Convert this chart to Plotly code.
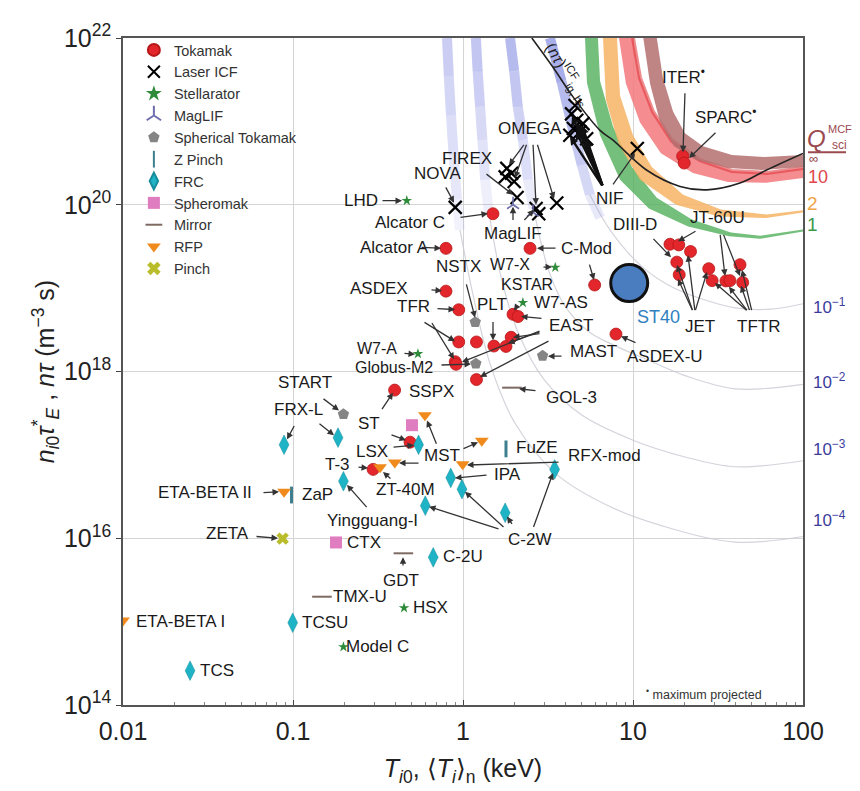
import plotly.graph_objects as go

# ---------------- data (T in keV, n*tau in m^-3 s) ----------------
tok_T = [1.50, 0.794, 2.48, 5.95, 0.794, 0.944, 1.97, 2.11, 0.944, 1.20, 1.52, 1.79, 1.92, 0.90, 0.91,
         1.20, 7.94, 16.5, 18.6, 21.8, 18.1, 18.7, 27.9, 29.2, 35.2, 37.2, 42.6, 44.2, 19.6, 20.0,
         0.396, 0.488, 0.296]
tok_nt = [7.8e19, 3.0e19, 3.0e19, 1.09e19, 9.2e18, 5.5e18, 4.85e18, 4.56e18, 2.26e18, 2.26e18, 2.02e18,
          2.0e18, 2.57e18, 1.31e18, 1.22e18, 8.0e17, 2.81e18, 3.36e19, 3.3e19, 2.75e19, 2.05e19, 1.45e19,
          1.71e19, 1.23e19, 1.22e19, 1.23e19, 1.91e19, 1.17e19, 3.83e20, 3.16e20, 5.98e17, 1.42e17, 6.7e16]

icf_T = [0.90, 1.81, 1.93, 2.0, 1.77, 2.08, 2.79, 2.69, 3.56, 4.35, 4.67, 4.46, 4.88, 5.34, 4.25, 4.56, 5.08, 10.6]
icf_nt = [9.3e19, 2.73e20, 2.39e20, 1.9e20, 2.16e20, 1.22e20, 7.8e19, 9.0e19, 1.05e20, 1.23e21, 1.03e21,
          8.2e20, 7.5e20, 6.2e20, 6.8e20, 1.55e21, 9.4e20, 4.73e20]

stel_T = [0.467, 3.49, 2.25, 0.543, 0.45, 0.198]
stel_nt = [1.12e20, 1.77e19, 6.7e18, 1.63e18, 1.46e15, 4.97e14]

maglif_T = [1.97, 2.58]
maglif_nt = [1.0e20, 8.1e19]

sphtok_T = [0.198, 1.18, 1.19, 2.94]
sphtok_nt = [3.07e17, 3.9e18, 1.24e18, 1.54e18]

zpinch_T = [0.098, 1.79]
zpinch_nt = [3.3e16, 1.18e17]

frc_T = [0.0886, 0.184, 0.198, 0.548, 0.847, 0.986, 0.60, 1.77, 3.46, 0.668, 0.0996, 0.0248]
frc_nt = [1.32e17, 1.61e17, 4.83e16, 1.32e17, 5.3e16, 3.88e16, 2.46e16, 2.02e16, 6.7e16, 5.9e15, 9.7e14, 2.58e14]

spheromak_T = [0.501, 0.179]
spheromak_nt = [2.27e17, 8.9e15]

mirror_T = [0.446, 0.148, 1.94]
mirror_nt = [6.6e15, 1.99e15, 6.4e17]

rfp_T = [0.0886, 0.01, 0.597, 1.29, 0.397, 0.325, 0.995]
rfp_nt = [3.6e16, 1.03e15, 2.98e17, 1.48e17, 8.1e16, 7.1e16, 7.7e16]

pinch_T = [0.0869]
pinch_nt = [9.9e15]

st40_T = [9.5]
st40_nt = [1.15e19]

# ICF hot-spot ignition curve
icf_ig_T = [2.54, 3.40, 4.46, 6.40, 7.66, 12.0, 18.9, 27.2, 42.6, 61.1, 100]
icf_ig_nt = [1e22, 4.4e21, 1.94e21, 7.8e20, 5.9e20, 2.61e20, 1.66e20, 1.51e20, 1.82e20, 2.61e20, 4.12e20]

# Q_sci^MCF bands: upper edge and lower edge
qinf_up_T = [13.8, 15.0, 17.2, 20.2, 25.8, 38.2, 59.7, 100]
qinf_up_nt = [1e22, 3.32e21, 1.31e21, 7.2e20, 5.04e20, 3.94e20, 3.73e20, 3.94e20]
qinf_lo_T = [11.5, 12.6, 14.4, 17.4, 23.5, 36.2, 57.4, 100]
qinf_lo_nt = [1e22, 2.82e21, 9.97e20, 5.04e20, 3.43e20, 2.76e20, 2.61e20, 2.84e20]

q10_up_T = [10.0, 11.0, 13.1, 16.9, 24.8, 38.2, 61.4, 100]
q10_up_nt = [1e22, 3.32e21, 1.31e21, 5.9e20, 3.43e20, 2.54e20, 2.41e20, 2.76e20]
q10_lo_T = [8.27, 9.09, 11.0, 14.6, 22.5, 36.2, 60.6, 100]
q10_lo_nt = [1e22, 2.82e21, 9.7e20, 4.16e20, 2.41e20, 1.88e20, 1.83e20, 2.10e20]

q2_up_T = [8.05, 8.39, 10.0, 12.9, 19.7, 32.9, 61.4, 100]
q2_up_nt = [1e22, 2.03e21, 6.8e20, 2.84e20, 1.32e20, 8.75e19, 7.63e19, 8.6e19]
q2_lo_T = [6.66, 6.93, 8.27, 11.0, 17.9, 32.1, 60.6, 100]
q2_lo_nt = [1e22, 1.82e21, 5.2e20, 1.99e20, 1.0e20, 7.25e19, 6.93e19, 8.06e19]

q1_up_T = [6.22, 6.40, 7.63, 9.86, 13.8, 22.2, 37.7, 55.8, 100]
q1_up_nt = [1e22, 3.06e21, 8.7e20, 2.84e20, 1.21e20, 6.65e19, 4.66e19, 4.24e19, 5.06e19]
q1_lo_T = [5.22, 5.36, 6.40, 8.39, 12.4, 21.1, 36.7, 55.8, 100]
q1_lo_nt = [1e22, 2.9e21, 6.8e20, 1.99e20, 9.0e19, 5.5e19, 4.2e19, 3.9e19, 4.79e19]

# low-Q curves (steep blue part fading out, then thin grey continuation)
qm1_band_T = [3.25, 3.8, 4.44, 5.0, 5.58, 6.4]
qm1_band_nt = [1e22, 3e21, 7.8e20, 3e20, 1.32e20, 7e19]
qm1_T = [5.58, 7.32, 11, 16, 25, 40, 65, 100]
qm1_nt = [1.32e20, 5.0e19, 1.9e19, 1.1e19, 7.5e18, 5.8e18, 5.6e18, 6.5e18]

qm2_band_T = [1.89, 2.0, 2.1, 2.25, 2.41, 2.6]
qm2_band_nt = [1e22, 4e21, 1.5e21, 6e20, 2e20, 9e19]
qm2_T = [2.6, 3.2, 4.0, 5.5, 8, 12, 20, 40, 100]
qm2_nt = [9e19, 1.6e19, 6e18, 3e18, 2e18, 1.4e18, 9e17, 6.2e17, 7e17]

qm3_band_T = [1.19, 1.22, 1.26, 1.3, 1.35, 1.42]
qm3_band_nt = [1e22, 4e21, 1.5e21, 6e20, 2e20, 8e19]
qm3_T = [1.42, 1.7, 2.1, 3, 5, 10, 20, 40, 100]
qm3_nt = [8e19, 1.2e19, 3e18, 8e17, 3e17, 1.5e17, 9.5e16, 7.2e16, 8.5e16]

qm4_band_T = [0.805, 0.825, 0.85, 0.88, 0.922, 0.96]
qm4_band_nt = [1e22, 3.5e21, 1.18e21, 4e20, 1.15e20, 5e19]
qm4_T = [0.96, 1.15, 1.45, 2, 3.5, 7, 15, 40, 100]
qm4_nt = [5e19, 8e18, 1.2e18, 2.5e17, 6e16, 2.5e16, 1.4e16, 9e15, 1.05e16]

x_tickvals = [0.01, 0.1, 1, 10, 100]
x_ticktext = ["0.01", "0.1", "1", "10", "100"]
x_minorvals = [m * d for d in (0.01, 0.1, 1, 10) for m in range(2, 10)]
y_tickvals = [1e14, 1e16, 1e18, 1e20, 1e22]
y_ticktext = ["10<sup>14</sup>", "10<sup>16</sup>", "10<sup>18</sup>", "10<sup>20</sup>", "10<sup>22</sup>"]

# ---------------- layout helpers (reference pixel -> axis coords for annotations) ----------------
FONT = "Liberation Sans, Arial, sans-serif"
L, R, T0, B = 123, 803, 31.7, 705.5   # plot-area edges in the page
OFF = 8                                 # default body margin of the html page
W, H = 860 - OFF, 791 - OFF


def axx(px):
    return -2 + (px - L) / 170.0


def axy(py):
    return 22 - (py - T0) / 84.2


def ppx(px):
    return (px - L) / (R - L)


def ppy(py):
    return (B - py) / (B - T0)


fig = go.Figure()


def band(upT, upN, loT, loN, color):
    fig.add_trace(go.Scatter(x=upT + loT[::-1], y=upN + loN[::-1], mode="lines", fill="toself",
                             fillcolor=color, line=dict(width=0), hoverinfo="skip", showlegend=False))


band(q1_up_T, q1_up_nt, q1_lo_T, q1_lo_nt, "rgba(80,175,90,0.80)")
band(q2_up_T, q2_up_nt, q2_lo_T, q2_lo_nt, "rgba(246,180,100,0.85)")
band(q10_up_T, q10_up_nt, q10_lo_T, q10_lo_nt, "rgba(242,120,125,0.85)")
fig.add_trace(go.Scatter(x=q10_up_T, y=q10_up_nt, mode="lines", hoverinfo="skip", showlegend=False,
                         line=dict(color="rgba(222,45,50,0.55)", width=4)))
band(qinf_up_T, qinf_up_nt, qinf_lo_T, qinf_lo_nt, "rgba(180,110,110,0.85)")

for gT, gN in [(qm1_T, qm1_nt), (qm2_T, qm2_nt), (qm3_T, qm3_nt), (qm4_T, qm4_nt)]:
    fig.add_trace(go.Scatter(x=gT, y=gN, mode="lines", line=dict(color="rgba(200,200,210,0.8)", width=1.2,
                             shape="spline"), hoverinfo="skip", showlegend=False))

for bT, bN, op in [(qm1_band_T, qm1_band_nt, 0.6), (qm2_band_T, qm2_band_nt, 0.5),
                   (qm3_band_T, qm3_band_nt, 0.42), (qm4_band_T, qm4_band_nt, 0.36)]:
    n = len(bT) - 1
    for i in range(n):
        a = op * (1 - i / n) ** 0.8
        fig.add_trace(go.Scatter(x=bT[i:i + 2], y=bN[i:i + 2], mode="lines",
                                 line=dict(color=f"rgba(110,120,220,{a:.3f})", width=10),
                                 hoverinfo="skip", showlegend=False))

fig.add_trace(go.Scatter(x=icf_ig_T, y=icf_ig_nt, mode="lines", line=dict(color="#222", width=1.6, shape="spline"),
                         hoverinfo="skip", showlegend=False))


def pts(x, y, name, **mk):
    fig.add_trace(go.Scatter(x=x, y=y, mode="markers", name=name, legendgroup=name, marker=mk, hoverinfo="skip"))


pts(tok_T, tok_nt, "Tokamak", symbol="circle", size=12, color="#E3262B", line=dict(color="#B51818", width=0.8))
pts(icf_T, icf_nt, "Laser ICF", symbol="x-thin", size=13, line=dict(color="black", width=2.2))
pts(stel_T, stel_nt, "Stellarator", symbol="star", size=8, color="#2E8B3A")
pts(maglif_T, maglif_nt, "MagLIF", symbol="y-up", size=10, line=dict(color="#6F6FB0", width=1.6))
pts(sphtok_T, sphtok_nt, "Spherical Tokamak", symbol="pentagon", size=12, color="#858585")
pts(zpinch_T, zpinch_nt, "Z Pinch", symbol="line-ns", size=12, line=dict(color="#3E7F8E", width=3))
pts(frc_T, frc_nt, "FRC", symbol="diamond-tall", size=14, color="#1FB3C6", line=dict(color="#148C9C", width=0.5))
pts(spheromak_T, spheromak_nt, "Spheromak", symbol="square", size=12, color="#E07CC0")
pts(mirror_T, mirror_nt, "Mirror", symbol="line-ew", size=14, line=dict(color="#7E6A62", width=2))
pts(rfp_T, rfp_nt, "RFP", symbol="triangle-down", size=12, color="#F08A1C")
pts(pinch_T, pinch_nt, "Pinch", symbol="x", size=11, color="#BABD2B")

fig.add_trace(go.Scatter(x=st40_T, y=st40_nt, mode="markers", showlegend=False, hoverinfo="skip",
                         marker=dict(symbol="circle", size=37, color="#4A7CC0", line=dict(color="#111", width=3))))

# ---------------- annotations ----------------
ann = []

labels = [
    ("LHD", 361, 196, 17), ("Alcator C", 410, 218, 17), ("Alcator A", 394, 243, 17), ("NOVA", 438, 169, 17),
    ("FIREX", 467, 153, 17), ("OMEGA", 530, 123, 17), ("MagLIF", 513, 229, 17), ("NIF", 609, 194, 17),
    ("C-Mod", 586, 244, 17), ("NSTX", 458, 262, 17), ("W7-X", 510, 260, 16), ("KSTAR", 527, 281, 16),
    ("ASDEX", 379, 285, 17), ("TFR", 413, 303, 17), ("PLT", 492, 301, 17), ("W7-AS", 561, 299, 17),
    ("EAST", 571, 322, 17), ("W7-A", 377, 345, 16), ("Globus-M2", 394, 364, 16), ("MAST", 593, 348, 17),
    ("ASDEX-U", 665, 353, 17), ("DIII-D", 635, 220, 17), ("JT-60U", 717, 213, 17),
    ("JET", 700, 323, 17), ("TFTR", 758, 323, 17), ("ITER<sup>•</sup>", 683, 70, 17),
    ("SPARC<sup>•</sup>", 725, 110, 17),
    ("START", 305, 380, 17), ("FRX-L", 298, 407, 17), ("SSPX", 431, 389, 17), ("ST", 369, 421, 17),
    ("LSX", 372, 449, 17), ("T-3", 337, 462, 17), ("MST", 442, 453, 17), ("FuZE", 537, 445, 17),
    ("RFX-mod", 604, 453, 17), ("ETA-BETA II", 205, 491, 17), ("ZaP", 317, 493, 17), ("ZT-40M", 405, 488, 17),
    ("IPA", 507, 473, 17), ("Yingguang-I", 372, 519, 17), ("C-2W", 529, 538, 17), ("ZETA", 227, 532, 17),
    ("CTX", 364, 541, 17), ("C-2U", 463, 555, 17), ("GDT", 401, 580, 17), ("TMX-U", 360, 596, 17),
    ("HSX", 430, 607, 17), ("ETA-BETA I", 180, 621, 17), ("TCSU", 325, 622, 17), ("Model C", 377, 646, 17),
    ("TCS", 217, 670, 17), ("GOL-3", 571, 395, 17),
]
for txt, px, py, fs in labels:
    ann.append(dict(x=axx(px), y=axy(py), xref="x", yref="y", text=txt, showarrow=False,
                    xanchor="center", yanchor="middle",
                    font=dict(family=FONT, size=fs, color="#1a1a1a")))

ann.append(dict(x=axx(658), y=axy(313), xref="x", yref="y", text="ST40", showarrow=False,
                font=dict(family=FONT, size=18, color="#2E7FC0")))

arrows = [
    (381, 196, 402, 196), (459, 213, 488, 209), (420, 243, 441, 244), (445, 181, 454, 198),
    (485, 168, 513, 190), (525, 138, 509, 160), (527, 138, 515, 173), (533, 138, 536, 200),
    (537, 138, 554, 194), (513, 217, 513, 202), (523, 217, 534, 205), (612, 181, 635, 148),
    (557, 244, 537, 244), (589, 259, 594, 276), (466, 279, 475, 314), (542, 263, 552, 263),
    (518, 301, 514, 307), (430, 286, 442, 287), (436, 305, 455, 306), (423, 318, 455, 338),
    (431, 318, 454, 356), (493, 317, 493, 337), (543, 315, 521, 313), (541, 327, 462, 359),
    (541, 328, 508, 340), (541, 330, 513, 334), (550, 337, 480, 374), (403, 350, 415, 351),
    (440, 362, 471, 361), (563, 353, 548, 353), (637, 340, 621, 333), (652, 233, 671, 253),
    (697, 226, 678, 237), (720, 229, 725, 272), (723, 229, 740, 272), (693, 308, 678, 275),
    (693, 308, 677, 261), (695, 308, 688, 251), (695, 308, 707, 268), (748, 308, 715, 279),
    (748, 308, 729, 283), (750, 308, 741, 282), (752, 308, 742, 266), (685, 86, 683, 147),
    (717, 126, 689, 153), (322, 395, 339, 408), (295, 422, 287, 437), (318, 420, 334, 433),
    (357, 465, 368, 466), (262, 491, 279, 490), (368, 507, 347, 483), (255, 535, 278, 537),
    (403, 566, 403, 556), (500, 528, 429, 505), (505, 527, 465, 490), (513, 524, 507, 515),
    (533, 527, 553, 471), (537, 388, 519, 386), (381, 408, 393, 390), (390, 432, 406, 438),
    (392, 445, 414, 443), (437, 443, 427, 418), (420, 461, 399, 461), (462, 447, 478, 440),
    (392, 478, 383, 470), (488, 473, 455, 476), (560, 460, 467, 463),
]
for tx, ty, hx, hy in arrows:
    ann.append(dict(x=axx(hx), y=axy(hy), ax=axx(tx), ay=axy(ty), xref="x", yref="y", axref="x", ayref="y",
                    text="", showarrow=True, arrowhead=2, arrowsize=1, arrowwidth=1.3, arrowcolor="#333"))

# thick NIF bundle
for hx, hy in [(572, 110), (578, 118), (576, 126), (586, 134), (570, 131), (582, 120)]:
    ann.append(dict(x=axx(hx), y=axy(hy), ax=axx(603), ay=axy(182), xref="x", yref="y", axref="x", ayref="y",
                    text="", showarrow=True, arrowhead=2, arrowsize=0.7, arrowwidth=2.4, arrowcolor="#111"))

# ICF ignition curve label
ann.append(dict(x=axx(568), y=axy(68), xref="x", yref="y", text="(<i>nτ</i>)<sup>ICF</sup><sub>ig, hs</sub>",
                showarrow=False, textangle=58, font=dict(family=FONT, size=16, color="#222")))


def side(txt, px, py, size, color):
    ann.append(dict(x=ppx(px), y=ppy(py), xref="paper", yref="paper", text=txt, showarrow=False,
                    xanchor="center", yanchor="middle", font=dict(family=FONT, size=size, color=color)))


# right-side Q labels
qcol = "#9B4A50"
side("<i>Q</i>", 816, 133, 24, qcol)
side("MCF", 840, 124, 11, qcol)
side("sci", 839, 140, 12, qcol)
side("∞", 813, 153, 13, "#8E3A40")
side("10", 818, 172, 18, "#E0464C")
side("2", 812, 199, 19, "#F0A448")
side("1", 812, 220, 19, "#3A9A4A")
for txt, py in [("10<sup>−1</sup>", 302), ("10<sup>−2</sup>", 378), ("10<sup>−3</sup>", 446), ("10<sup>−4</sup>", 518)]:
    side(txt, 829, py, 17, "#3C3C9C")

ann.append(dict(x=ppx(644), y=ppy(694), xref="paper", yref="paper", text="<sup>•</sup> maximum projected",
                xanchor="left", yanchor="middle", showarrow=False, font=dict(family=FONT, size=12.5, color="#333")))

shapes = [dict(type="line", xref="paper", yref="paper", x0=ppx(808), x1=ppx(846), y0=ppy(147), y1=ppy(147),
               line=dict(color=qcol, width=2))]

fig.update_layout(
    width=W, height=H,
    margin=dict(l=L - OFF, r=860 - R, t=T0 - OFF, b=791 - B),
    paper_bgcolor="white", plot_bgcolor="white",
    font=dict(family=FONT, color="#222"),
    annotations=ann, shapes=shapes,
    legend=dict(x=0.016, y=1.006, xanchor="left", yanchor="top", bgcolor="rgba(0,0,0,0)",
                font=dict(family=FONT, size=14.5, color="#333"), itemsizing="constant", tracegroupgap=0),
    xaxis=dict(type="log", range=[-2, 2], tickvals=x_tickvals, ticktext=x_ticktext,
               tickfont=dict(size=25, color="#222"), showgrid=True, gridcolor="#d4d4d4", gridwidth=1,
               showline=True, linecolor="#555", linewidth=1.5, mirror=True, ticks="inside", ticklen=5,
               ticklabelstandoff=3,
               minor=dict(tickvals=x_minorvals, ticks="inside", ticklen=3, tickcolor="#888", showgrid=False),
               zeroline=False,
               title=dict(text="<i>T</i><sub><i>i</i>0</sub>, ⟨<i>T</i><sub><i>i</i></sub>⟩<sub>n</sub> (keV)",
                          font=dict(size=25, color="#222"), standoff=16)),
    yaxis=dict(type="log", range=[14, 22], tickvals=y_tickvals, ticktext=y_ticktext,
               tickfont=dict(size=25, color="#222"), showgrid=True, gridcolor="#d4d4d4", gridwidth=1,
               showline=True, linecolor="#555", linewidth=1.5, mirror=True, ticks="outside", ticklen=5,
               zeroline=False,
               title=dict(text="<i>n</i><sub><i>i</i>0</sub><i>τ</i><sup>*</sup><sub><i>E</i></sub> , <i>nτ</i> (m<sup>−3</sup> s)",
                          font=dict(size=25, color="#222"), standoff=2)),
)

fig.write_html("out.html")
